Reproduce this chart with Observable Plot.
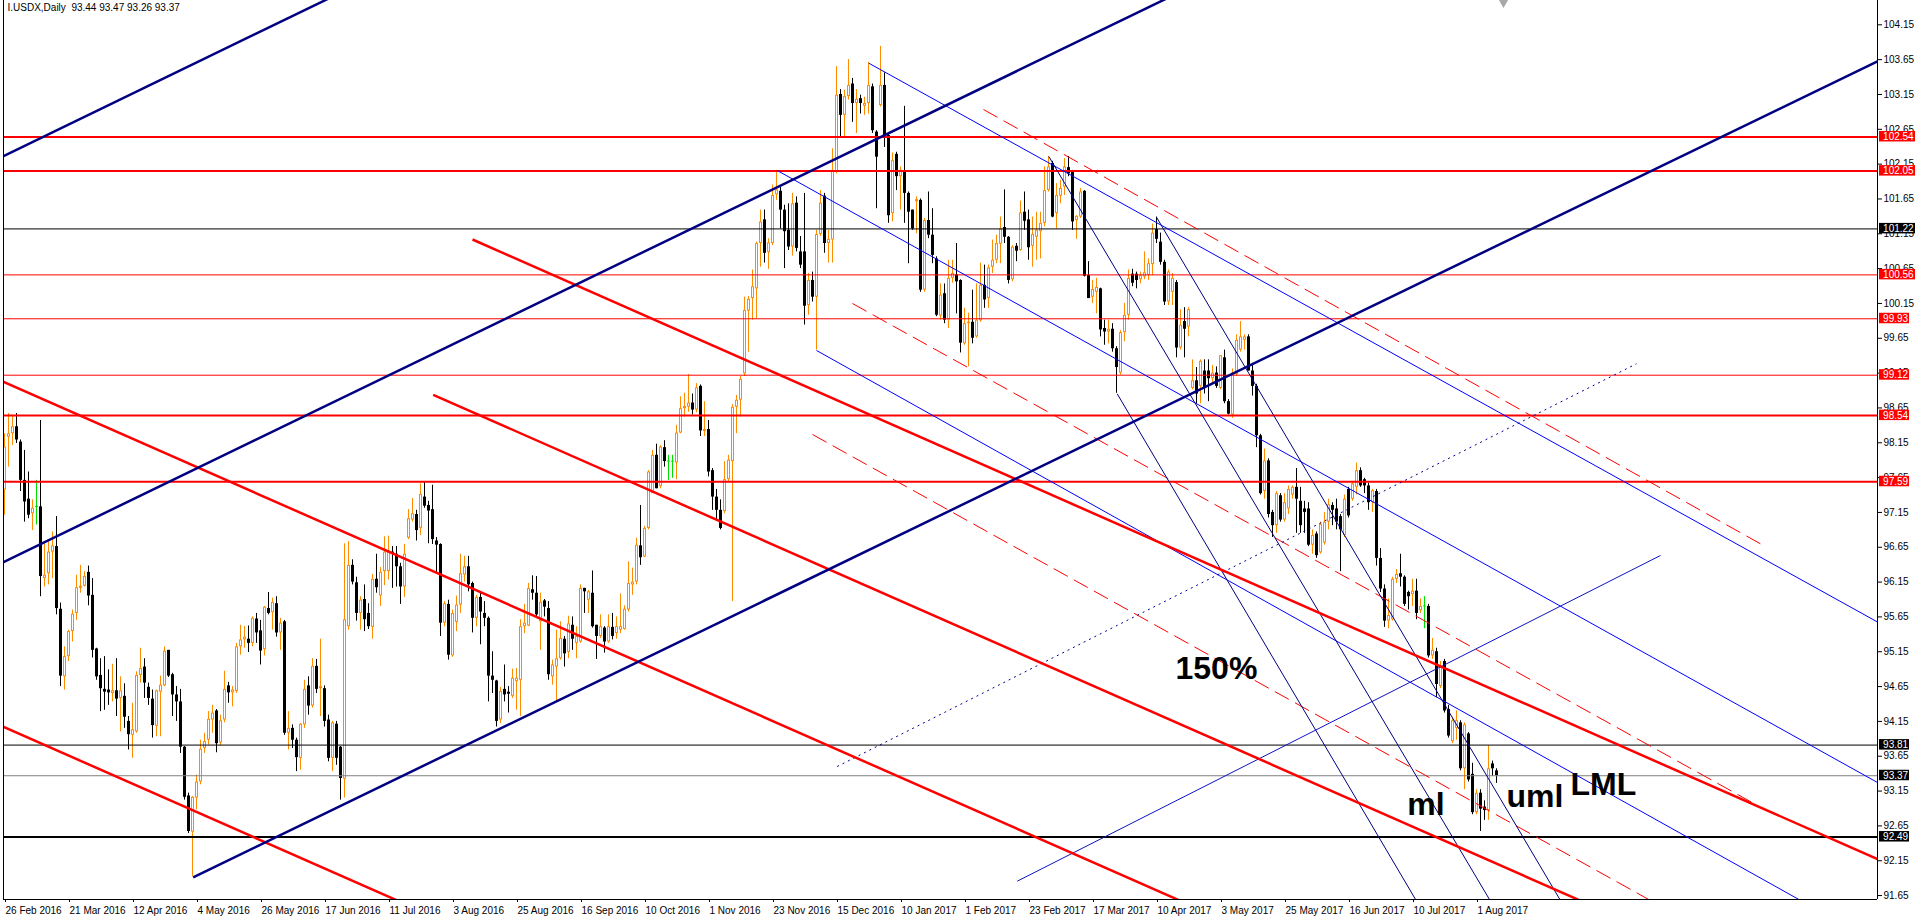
<!DOCTYPE html>
<html><head><meta charset="utf-8">
<script src="https://cdn.jsdelivr.net/npm/d3@7"></script>
<script src="https://cdn.jsdelivr.net/npm/@observablehq/plot@0.6"></script>
<style>html,body{margin:0;padding:0;background:#fff;overflow:hidden}</style>
</head><body><div id="chart"></div>
<script>
// ---- Daily OHLC of I.USDX, one value per trading bar (bar 0 = 26 Feb 2016) ----
const open = [
97.47,98.23,98.28,98.38,98.16,97.61,97.34,97.13,97.23,97.23,
96.20,96.27,96.58,96.66,95.76,94.79,95.08,95.44,95.70,96.06,
96.09,96.29,95.96,95.19,94.81,94.61,94.60,94.55,94.59,94.48,
94.51,94.15,93.95,94.00,94.81,94.93,94.64,94.47,94.08,94.57,
94.66,95.17,94.82,94.53,94.43,93.78,93.08,92.56,93.05,93.28,
93.76,93.88,94.17,94.30,93.84,94.17,94.66,94.56,94.58,95.22,
95.32,95.33,95.27,95.62,95.45,95.18,95.77,95.71,95.84,95.42,
95.58,93.98,94.05,93.88,93.62,94.10,94.66,94.37,94.94,94.62,
94.62,94.17,93.62,94.11,93.78,93.32,95.51,96.39,96.14,95.70,
95.90,95.70,95.50,96.19,95.95,96.30,96.30,96.58,96.55,96.37,
96.08,96.78,97.04,97.12,96.92,97.37,97.25,97.19,96.74,96.69,
95.56,95.83,95.09,95.57,95.82,96.25,96.37,96.13,95.63,95.93,
95.70,95.63,94.80,94.73,94.17,94.61,94.57,94.51,94.72,94.74,
95.51,95.52,96.04,95.99,95.58,95.88,95.77,94.79,94.93,95.05,
95.33,95.14,95.53,95.27,95.29,96.06,95.89,95.99,95.53,95.37,
95.49,95.29,95.50,95.41,95.46,95.47,95.75,96.11,96.15,96.67,
96.51,96.92,97.42,97.97,97.52,98.08,97.88,97.88,97.86,98.29,
98.64,98.66,98.72,98.62,98.96,98.31,98.34,97.75,97.37,97.18,
97.16,97.62,97.88,98.66,98.76,99.14,100.04,100.22,100.36,101.01,
101.35,100.88,101.01,101.71,101.76,101.49,101.20,100.96,101.59,100.89,
100.89,100.12,100.48,100.24,101.14,101.69,101.01,101.06,102.04,103.15,
102.85,103.12,103.30,103.02,103.09,102.98,103.02,103.26,102.61,102.99,
103.28,102.56,101.44,102.29,101.97,102.04,101.73,101.49,101.61,101.63,
100.34,101.34,101.13,100.79,99.97,100.29,99.91,100.51,100.56,100.48,
99.57,99.86,99.88,99.67,99.90,100.41,100.22,100.67,100.77,101.00,
101.24,101.10,100.49,100.97,100.91,101.46,101.35,100.97,101.10,101.18,
101.30,101.77,102.16,101.44,101.69,101.82,102.10,102.04,101.34,101.39,
101.76,100.55,100.24,100.31,100.36,99.79,99.74,99.78,99.50,99.15,
99.73,99.98,100.57,100.57,100.49,100.53,100.55,100.71,101.21,101.03,
100.74,100.17,100.31,100.45,99.51,99.89,99.81,98.93,99.04,98.96,
99.18,99.18,99.07,99.15,98.93,99.37,98.74,98.55,99.13,99.48,
99.62,99.67,99.18,98.96,98.25,97.45,97.89,97.15,96.96,97.39,
97.04,97.20,97.40,97.51,97.31,97.20,97.20,96.68,96.84,96.57,
96.71,97.01,97.25,97.20,97.09,96.82,97.48,97.34,97.51,97.75,
97.62,97.53,97.29,97.45,96.49,96.05,95.59,95.61,96.19,96.27,
96.22,96.00,95.97,96.02,95.74,95.80,95.80,95.09,95.15,94.65,
95.01,94.32,93.86,94.05,94.13,93.47,93.97,93.39,92.84,93.12,
92.92,92.87,93.54,93.44];
const high = [
98.28,98.57,98.54,98.57,98.19,98.04,97.73,97.33,97.61,98.47,
96.70,96.73,96.87,97.09,95.85,95.22,95.46,95.75,96.25,96.39,
96.30,96.38,96.20,95.20,95.05,95.08,94.89,94.97,95.05,94.79,
94.69,94.22,94.41,94.86,95.20,95.05,94.70,94.60,94.60,94.80,
95.22,95.17,94.84,94.65,94.61,93.79,93.12,93.07,93.38,93.88,
93.98,94.29,94.38,94.32,94.24,94.87,94.71,94.65,95.27,95.53,
95.51,95.52,95.65,95.70,95.60,95.80,96.00,95.92,95.94,95.63,
95.60,94.29,94.10,93.91,94.12,94.74,94.79,95.05,95.04,95.33,
94.66,94.24,94.15,94.15,93.79,96.70,96.73,96.47,96.22,95.94,
96.11,95.84,96.26,96.55,96.36,96.80,96.81,96.66,96.66,96.42,
96.69,97.19,97.35,97.18,97.56,97.59,97.31,97.54,96.79,96.70,
95.87,95.89,95.75,95.95,96.55,96.52,96.52,96.15,95.96,95.99,
95.87,95.65,95.15,94.74,94.64,94.96,94.65,94.90,94.91,95.61,
95.83,96.13,96.24,96.23,95.99,95.90,95.87,95.03,95.46,95.58,
95.37,95.66,95.65,95.51,96.11,96.06,96.03,96.31,95.53,95.68,
95.51,95.68,95.70,95.65,95.98,95.81,96.44,96.35,96.78,97.25,
96.95,97.75,98.04,98.13,98.11,98.18,97.97,97.97,98.40,98.81,
98.86,99.13,98.85,99.00,98.98,98.74,98.47,97.78,97.48,97.33,
97.88,97.97,98.70,98.83,99.10,100.24,100.25,100.63,101.03,101.49,
101.49,101.08,101.85,102.06,101.82,101.56,101.58,101.73,101.68,101.11,
101.73,100.58,100.60,101.20,101.77,101.73,101.20,102.37,103.55,103.22,
103.21,103.65,103.38,103.22,103.14,103.11,103.61,103.30,102.63,103.84,
103.46,102.59,102.31,102.32,102.11,102.98,101.75,101.49,101.68,101.65,
101.37,101.75,101.51,100.82,100.43,100.43,100.77,100.77,101.01,100.49,
100.08,100.01,100.34,100.43,100.73,100.70,100.70,101.06,101.13,101.39,
101.78,101.11,100.98,101.01,101.62,101.75,101.49,101.39,101.46,101.46,
102.11,102.26,102.19,101.87,101.92,102.23,102.26,102.06,101.41,101.80,
101.77,100.75,100.48,100.51,100.37,99.91,99.91,99.86,99.53,99.76,
100.15,100.63,100.64,100.60,100.60,100.89,100.79,101.29,101.39,101.16,
100.77,100.63,100.58,100.48,100.06,100.09,100.09,99.34,99.23,99.34,
99.34,99.34,99.26,99.24,99.40,99.48,98.77,99.21,99.70,99.89,
99.70,99.70,99.29,98.99,98.27,98.06,97.92,97.18,97.45,97.42,
97.42,97.53,97.53,97.78,97.51,97.31,97.29,96.90,96.87,97.01,
97.15,97.34,97.29,97.34,97.12,97.40,97.51,97.59,97.86,97.79,
97.64,97.57,97.48,97.48,96.63,96.11,95.91,96.22,96.33,96.55,
96.24,96.02,96.19,96.19,95.91,95.94,95.83,95.34,95.20,95.01,
95.04,94.38,94.21,94.30,94.16,94.13,93.99,93.55,93.17,93.17,
93.01,93.80,93.58,93.47];
const low = [
97.11,97.80,98.11,98.14,97.45,97.01,97.06,96.89,96.97,95.94,
96.08,96.11,96.20,95.68,94.65,94.60,95.01,95.29,95.60,95.99,
96.08,95.81,95.06,94.74,94.29,94.31,94.38,94.43,94.22,94.00,
94.05,93.74,93.62,93.98,94.70,94.48,94.38,93.91,93.93,93.93,
94.65,94.78,94.22,94.15,93.69,93.02,92.54,91.92,92.88,93.24,
93.69,93.81,93.98,93.70,93.80,94.13,94.41,94.36,94.55,95.10,
95.20,95.14,95.22,95.27,94.96,95.09,95.68,95.46,95.36,95.17,
93.95,93.74,93.76,93.43,93.45,94.05,94.24,94.34,94.55,94.22,
94.07,93.57,93.43,93.52,93.02,93.05,95.46,96.11,95.59,95.46,
95.44,95.47,95.33,95.99,95.80,96.10,96.18,96.06,96.08,95.83,
95.93,96.76,97.01,96.74,96.82,97.21,96.70,96.69,96.27,95.37,
95.51,95.03,95.07,95.44,95.70,96.15,96.01,95.42,95.51,95.25,
95.51,94.43,94.55,94.07,94.12,94.43,94.27,94.48,94.31,94.22,
95.41,95.51,95.89,95.63,95.17,95.65,94.74,94.67,94.43,95.03,
94.93,95.05,95.17,95.05,95.27,95.70,95.70,95.49,95.04,95.34,
95.13,95.27,95.32,95.33,95.41,95.46,95.72,95.96,96.11,96.39,
96.50,96.90,97.42,97.49,97.49,97.80,97.61,97.64,97.62,98.28,
98.52,98.59,98.55,98.58,98.24,98.24,97.66,97.18,97.04,96.90,
97.13,97.59,95.87,98.28,98.52,99.10,99.45,99.91,99.93,100.67,
100.73,100.64,100.98,101.63,101.22,100.65,100.91,100.83,100.89,100.65,
99.84,99.98,100.17,99.48,101.11,100.87,100.73,100.73,102.01,102.54,
102.54,103.07,102.75,102.59,102.87,102.85,102.87,102.59,101.51,102.97,
102.39,101.30,101.32,101.77,101.49,101.30,100.72,101.20,101.15,100.31,
100.31,101.08,100.72,99.96,99.91,99.86,99.79,100.44,100.00,99.44,
99.55,99.24,99.57,99.65,99.88,100.08,100.08,100.58,100.72,100.72,
101.01,100.43,100.46,100.75,100.90,101.20,100.77,100.67,100.77,100.79,
101.25,101.75,101.38,101.22,101.58,101.70,101.97,101.20,101.07,101.37,
100.53,100.22,100.15,100.00,99.67,99.55,99.57,99.45,98.86,99.12,
99.60,99.91,100.39,100.36,100.43,100.49,100.48,100.55,101.01,100.70,
100.12,100.12,100.12,99.37,99.48,99.37,99.67,98.91,98.71,98.71,
98.85,98.74,98.99,98.93,98.91,98.71,98.55,98.50,99.10,99.45,
99.48,99.18,98.82,98.08,97.40,97.34,97.07,96.79,96.85,97.01,
97.01,97.12,97.34,96.85,96.85,96.85,96.66,96.55,96.49,96.55,
96.68,96.90,96.96,96.90,96.30,96.79,97.07,97.31,97.40,97.51,
97.42,97.18,97.15,96.38,96.00,95.50,95.48,95.59,96.13,96.08,
95.80,95.75,95.80,95.61,95.70,95.48,95.06,95.04,94.49,94.62,
94.27,93.91,93.83,93.88,93.44,93.17,93.28,92.81,92.81,92.57,
92.73,92.73,93.36,93.26];
const close = [
98.09,98.28,98.38,98.19,97.61,97.30,97.11,97.21,97.23,96.23,
96.25,96.58,96.67,95.77,94.80,95.08,95.44,95.69,96.07,96.09,
96.23,95.95,95.17,94.79,94.62,94.57,94.56,94.59,94.47,94.59,
94.21,93.96,94.03,94.81,94.91,94.70,94.48,94.09,94.59,94.67,
95.16,94.80,94.53,94.43,93.78,93.06,92.57,93.06,93.28,93.75,
93.86,94.18,94.27,93.83,94.16,94.61,94.56,94.60,95.22,95.32,
95.36,95.27,95.63,95.42,95.16,95.79,95.70,95.86,95.42,95.56,
93.98,94.05,93.88,93.63,94.11,94.61,94.37,94.94,94.61,94.65,
94.15,93.62,94.13,93.62,93.33,95.61,96.39,96.15,95.70,95.89,
95.61,95.51,96.19,96.07,96.29,96.58,96.60,96.55,96.37,96.08,
96.55,97.06,97.13,96.89,97.41,97.24,97.17,96.76,96.68,95.56,
95.84,95.10,95.70,95.82,96.27,96.37,96.11,95.63,95.93,95.72,
95.63,94.80,94.74,94.15,94.58,94.53,94.54,94.77,94.77,95.51,
95.56,96.06,95.99,95.68,95.86,95.79,94.82,94.96,95.05,95.34,
95.12,95.55,95.33,95.37,96.06,96.01,96.01,95.51,95.37,95.51,
95.29,95.51,95.37,95.51,95.51,95.76,96.13,96.15,96.68,96.50,
96.92,97.73,97.97,97.49,98.09,97.88,97.88,97.88,98.29,98.64,
98.67,98.72,98.62,98.94,98.32,98.34,97.73,97.37,97.18,96.92,
97.62,97.90,98.66,98.76,99.06,100.05,100.21,100.39,101.01,101.32,
100.87,101.02,101.70,101.78,101.49,101.18,100.96,101.58,100.94,100.70,
100.11,100.48,100.24,101.14,101.59,101.01,101.07,102.06,103.14,102.85,
103.12,103.28,103.02,103.08,103.02,103.02,103.28,102.63,102.25,103.28,
102.54,101.41,102.20,101.97,102.04,101.73,101.46,101.22,101.64,100.34,
101.34,101.13,100.84,99.98,100.27,99.91,100.51,100.58,100.46,99.58,
99.86,99.88,99.65,99.91,100.41,100.20,100.66,100.77,101.01,101.22,
101.10,100.48,100.96,100.90,101.45,101.33,100.95,101.14,101.20,101.30,
101.77,102.11,101.39,101.70,101.80,102.11,102.01,101.32,101.40,101.75,
100.54,100.22,100.35,100.38,99.77,99.74,99.78,99.50,99.23,99.73,
99.98,100.51,100.44,100.48,100.55,100.59,100.72,101.16,101.07,100.74,
100.17,100.60,100.51,99.51,99.84,99.78,100.06,99.04,98.85,99.32,
98.93,99.07,99.15,98.96,99.40,98.74,98.56,99.15,99.62,99.67,
99.67,99.18,98.96,98.25,97.42,97.89,97.12,96.96,97.42,97.04,
97.29,97.48,97.51,97.34,96.96,97.15,96.68,96.82,96.53,96.98,
97.01,97.26,97.18,97.01,96.90,97.34,97.10,97.56,97.75,97.53,
97.53,97.29,97.46,96.49,96.05,95.59,95.67,96.19,96.26,96.22,
95.83,95.94,96.02,95.70,95.80,95.80,95.09,95.17,94.68,94.93,
94.30,93.94,94.16,94.16,93.47,94.10,93.31,92.84,93.12,92.89,
92.87,93.47,93.47,93.37];

// ---- X axis labels (every 16th bar) ----
const xTickBars = [0,16,32,48,64,80,96,112,128,144,160,176,192,208,224,240,256,272,288,304,320,336,352,368];
const xTickLabels = ["26 Feb 2016","21 Mar 2016","12 Apr 2016","4 May 2016","26 May 2016","17 Jun 2016","11 Jul 2016","3 Aug 2016","25 Aug 2016","16 Sep 2016","10 Oct 2016","1 Nov 2016","23 Nov 2016","15 Dec 2016","10 Jan 2017","1 Feb 2017","23 Feb 2017","17 Mar 2017","10 Apr 2017","3 May 2017","25 May 2017","16 Jun 2017","10 Jul 2017","1 Aug 2017"];
// ---- Price axis tick labels ----
const yTicks = [91.65,92.15,92.65,93.15,93.65,94.15,94.65,95.15,95.65,96.15,96.65,97.15,97.65,98.15,98.65,99.15,99.65,100.15,100.65,101.15,101.65,102.15,102.65,103.15,103.65,104.15];

// ---- Horizontal levels ----
const redThickLevels = [102.54,102.05,98.54,97.59];
const redThinLevels = [100.56,99.93,99.12];
const blackThinLevels = [101.22,93.81];
const greyLevels = [93.37];
const blackThickLevels = [92.49];

// ---- Trend lines: [bar1, price1, bar2, price2] ----
const navyChannel = [[-1,102.245,468.25,115.30],[-1,96.417,468.25,109.472],[47.175,91.912,468.25,103.626]];
const redChannel = [[-1,99.044,468.25,87.161],[117,101.068,468.25,92.173],[107.175,98.839,468.25,89.696],[-1,94.091,468.25,82.208]];
const redDashed = [[244.75,102.934,439.75,96.675],[212,100.149,438.25,92.943],[202,98.269,411.5,91.579]];
const blueLines = [[216.075,103.599,468.25,95.577],[193.175,102.059,468.25,93.273],[203,99.475,448.575,91.594]];
const blueRising = [[253.175,91.856,414,96.532]];
const navyDotted = [[208.175,93.503,408,99.284]];
const pitchfork = [[261.075,102.260,371.4,91.579],[278.175,98.853,352.925,91.579],[288,101.388,389,91.579]];

// ---- Text annotations: [bar, price, label] ----
const notes = [[292.75,95.086,"150%"],[350.675,93.137,"ml"],[375.5,93.249,"uml"],[391.5,93.417,"LML"]];

// ---------------------------------------------------------------
const n = close.length;
const bars = d3.range(n).map(i => ({i, o: open[i], h: high[i], l: low[i], c: close[i]}));
const xDomain = [-0.25, 468.25];
const yDomain = [91.5934, 104.499];
const plotH = 899;
const PX = (yDomain[1] - yDomain[0]) / plotH; // price per pixel
const UP = "#ff8c00", DOWN = "#000000", FLAT = "#00e000";
const col = d => d.c > d.o ? UP : d.c < d.o ? DOWN : FLAT;
const bodyLo = d => Math.min(d.o, d.c) - (Math.abs(d.c - d.o) < PX ? PX / 2 : 0);
const bodyHi = d => Math.max(d.o, d.c) + (Math.abs(d.c - d.o) < PX ? PX / 2 : 0);
const hollow = bars.filter(d => d.c - d.o > 2.5 * PX);
const last = bars[n - 1];
const title = `I.USDX,Daily\u00a0\u00a0${last.o.toFixed(2)} ${last.h.toFixed(2)} ${last.l.toFixed(2)} ${last.c.toFixed(2)}`;

const boxes = [
  ...redThickLevels.map(v => ({v, fill: "#ff0000"})),
  ...redThinLevels.map(v => ({v, fill: "#ff0000"})),
  ...blackThinLevels.map(v => ({v, fill: "#000000"})),
  ...greyLevels.map(v => ({v, fill: "#000000"})),
  ...blackThickLevels.map(v => ({v, fill: "#000000"}))
];
const lab = v => v.toFixed(2);
const boxX1 = xDomain[1] + 0.5;
const boxX2 = v => xDomain[1] + (lab(v).length > 5 ? 9.5 : 8);

const link = (data, opts) => Plot.link(data, {x1: d => d[0], y1: d => d[1], x2: d => d[2], y2: d => d[3], clip: true, ...opts});

const chart = Plot.plot({
  width: 1919, height: 921,
  marginLeft: 3, marginRight: 42, marginTop: 0, marginBottom: 921 - plotH,
  x: {type: "linear", domain: xDomain},
  y: {type: "linear", domain: yDomain},
  style: {fontFamily: "'Liberation Sans', Arial, sans-serif", fontSize: "10px", background: "#fff", color: "#000", overflow: "visible"},
  marks: [
    // candles
    Plot.ruleX(bars, {x: "i", y1: "l", y2: "h", stroke: col, strokeWidth: 1}),
    Plot.ruleX(bars, {x: "i", y1: bodyLo, y2: bodyHi, stroke: col, strokeWidth: 3}),
    Plot.ruleX(hollow, {x: "i", y1: d => d.o + PX, y2: d => d.c - PX, stroke: "#fff", strokeWidth: 1}),
    // horizontal levels
    Plot.ruleY(redThinLevels, {stroke: "#ff0000", strokeWidth: 1}),
    Plot.ruleY(redThickLevels, {stroke: "#ff0000", strokeWidth: 2}),
    Plot.ruleY(blackThinLevels, {stroke: "#000", strokeWidth: 1}),
    Plot.ruleY(greyLevels, {stroke: "#808080", strokeWidth: 1}),
    Plot.ruleY(blackThickLevels, {stroke: "#000", strokeWidth: 2}),
    // trend lines
    link(redDashed, {stroke: "#ff0000", strokeWidth: 1, strokeDasharray: "16,7"}),
    link(blueLines, {stroke: "#0000ff", strokeWidth: 1}),
    link(blueRising, {stroke: "#1010c0", strokeWidth: 1}),
    link(navyDotted, {stroke: "#000090", strokeWidth: 1, strokeDasharray: "2,4"}),
    link(pitchfork, {stroke: "#000080", strokeWidth: 1}),
    link(redChannel, {stroke: "#ff0000", strokeWidth: 2.5}),
    link(navyChannel, {stroke: "#000080", strokeWidth: 2.5}),
    // annotations
    Plot.text(notes, {x: d => d[0], y: d => d[1], text: d => d[2], fontSize: 32, fontWeight: "bold", textAnchor: "start", lineAnchor: "top", fill: "#000"}),
    Plot.text([title], {frameAnchor: "top-left", dx: 4, dy: 3, lineAnchor: "top", textAnchor: "start", fontSize: 10, fill: "#000"}),
    Plot.dot([374.75], {x: d => d, frameAnchor: "top", dy: 2, symbol: "triangle", r: 3.5, rotate: 180, fill: "#a8a8a8", stroke: "none"}),
    // frame
    Plot.ruleX([xDomain[0]], {stroke: "#000"}),
    Plot.ruleX([xDomain[1]], {stroke: "#000"}),
    Plot.ruleY([yDomain[0]], {stroke: "#000"}),
    // axes
    Plot.axisX({ticks: xTickBars, tickFormat: d => xTickLabels[xTickBars.indexOf(d)], textAnchor: "start", dx: 1, tickSize: 3, tickPadding: 4, fontSize: 10, label: null}),
    Plot.axisY({anchor: "right", ticks: yTicks, tickFormat: d => d.toFixed(2), tickSize: 4, tickPadding: 2, fontSize: 10, label: null}),
    // level label boxes on the price axis
    Plot.rect(boxes, {x1: boxX1, x2: d => boxX2(d.v), y1: d => d.v - 5 * PX, y2: d => d.v + 5.5 * PX, fill: d => d.fill}),
    Plot.text(boxes, {x: xDomain[1] + 1.4, y: "v", text: d => lab(d.v), fill: "#fff", textAnchor: "start", fontSize: 10})
  ]
});
document.getElementById("chart").appendChild(chart);
</script></body></html>
